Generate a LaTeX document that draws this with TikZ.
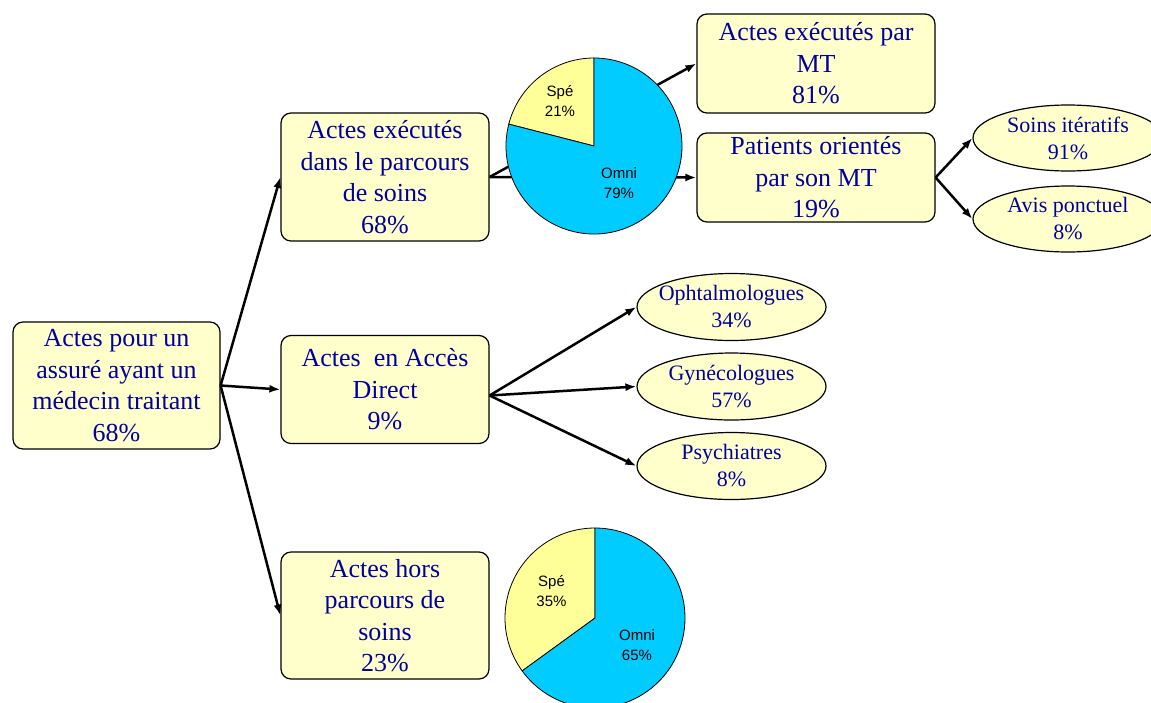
\documentclass[tikz,border=0pt]{standalone}
\usepackage{fontspec}
\setmainfont{Liberation Serif}
\newfontfamily\piefont{Liberation Sans}
\usetikzlibrary{arrows.meta,shapes.geometric}
\definecolor{boxyellow}{RGB}{255,255,204}
\definecolor{speyellow}{RGB}{255,255,153}
\definecolor{omnicyan}{RGB}{0,204,255}
\definecolor{textblue}{RGB}{0,0,160}
\begin{document}
\begin{tikzpicture}[x=1pt, y=-1pt,
	box/.style={rectangle, rounded corners=10, draw, line width=1.2pt, fill=boxyellow, text=textblue, inner sep=0pt, align=center, font=\fontsize{26}{31.5}\selectfont},
	oval/.style={ellipse, draw, line width=1.2pt, fill=boxyellow, text=textblue, inner xsep=-40pt, inner ysep=-20pt, align=center, minimum width=189, minimum height=67, font=\fontsize{22}{27}\selectfont},
	pietext/.style={align=center, inner sep=0pt, font=\piefont\fontsize{15}{20}\selectfont},
	slice/.style={draw, line width=0.8pt},
	arr/.style={-{Latex[length=11pt,width=8pt]}, line width=2.5pt}]
		\useasboundingbox (0,0) rectangle (1151,702);
		\clip (0,0) rectangle (1151,702);
		
		\node (root) at (116.5,385.5) [box, minimum width=207, minimum height=127] {Actes pour un\\assuré ayant un\\médecin traitant\\68\%};
		\node (parc) at (385,177) [box, minimum width=208, minimum height=128] {Actes exécutés\\dans le parcours\\de soins\\68\%};
		\node (acc) at (385,389.5) [box, minimum width=208, minimum height=108] {Actes~ en Accès\\Direct\\9\%};
		\node (hors) at (385,615.5) [box, minimum width=208, minimum height=127] {Actes hors\\parcours de\\soins\\23\%};
		\node (mt) at (816,63.5) [box, minimum width=238, minimum height=99] {Actes exécutés par\\MT\\81\%};
		\node (orient) at (816,177.5) [box, minimum width=238, minimum height=89] {Patients orientés\\par son MT\\19\%};
		
		\node (iter) at (1068,138) [oval, minimum width=190, minimum height=66] {Soins itératifs\\91\%};
		\node (avis) at (1068,219) [oval, minimum width=190, minimum height=66] {Avis ponctuel\\8\%};
		\node (ophta) at (731.5,307) [oval] {Ophtalmologues\\34\%};
		\node (gyn) at (731.5,386.5) [oval] {Gynécologues\\57\%};
		\node (psy) at (731.5,466) [oval] {Psychiatres\\8\%};
		
		\draw[arr] (root.east) to (parc.west);
		\draw[arr] (root.east) to (acc.west);
		\draw[arr] (root.east) to (hors.west);
		\draw[arr] (parc.east) to (mt.west);
		\draw[arr] (parc.east) to (orient.west);
		\draw[arr] (orient.east) to (iter.west);
		\draw[arr] (orient.east) to (avis.west);
		\coordinate (accout) at ([yshift=-6pt]acc.east);
		\draw[arr] (accout) to (ophta.west);
		\draw[arr] (accout) to (gyn.west);
		\draw[arr] (accout) to (psy.west);
		
		\coordinate (pieA) at (594,146);
		\draw[slice, fill=speyellow] (pieA) -- ++(-90:88) arc[start angle=-90, end angle=-165.6, radius=88] -- cycle;
		\draw[slice, fill=omnicyan] (pieA) -- ++(-165.6:88) arc[start angle=-165.6, end angle=-450, radius=88] -- cycle;
		\node (spe1) at (560,101.5) [pietext] {Spé\\21\%};
		\node (omni1) at (619,183) [pietext] {Omni\\79\%};
		
		\coordinate (pieB) at (595,618);
		\draw[slice, fill=speyellow] (pieB) -- ++(-90:90) arc[start angle=-90, end angle=-216, radius=90] -- cycle;
		\draw[slice, fill=omnicyan] (pieB) -- ++(-216:90) arc[start angle=-216, end angle=-450, radius=90] -- cycle;
		\node (spe2) at (551.5,591) [pietext] {Spé\\35\%};
		\node (omni2) at (637,645.5) [pietext] {Omni\\65\%};
		
	\end{tikzpicture}
\end{document}
